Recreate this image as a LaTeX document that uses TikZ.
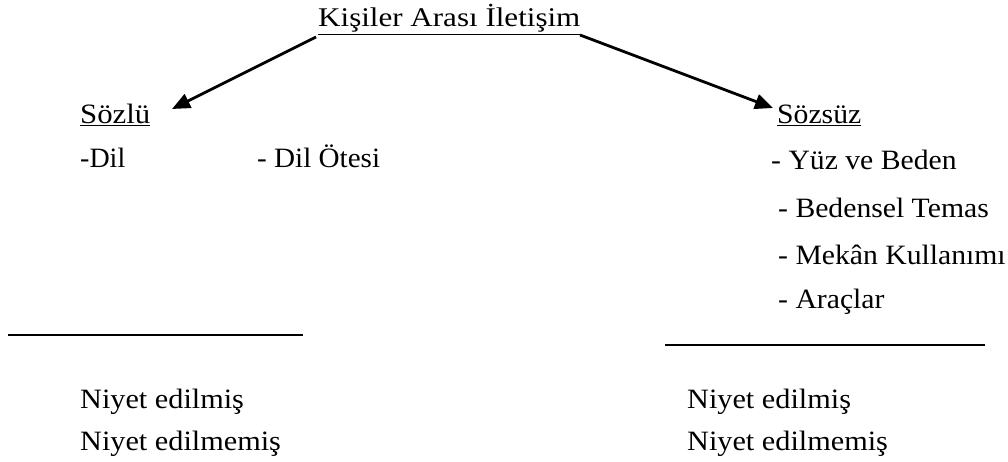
\documentclass[tikz,border=0pt]{standalone}
\usepackage{fontspec}
\setmainfont{Liberation Serif}
\usetikzlibrary{arrows.meta}
\newcommand{\wide}[2]{\scalebox{#1}[1]{#2}}
\tikzset{
  lbl/.style={anchor=base west, inner sep=0pt, font=\fontsize{28}{32}\selectfont},
  ttl/.style={anchor=base west, inner sep=0pt, font=\fontsize{27}{30}\selectfont},
  arr/.style={line width=2.8pt, -{Triangle[length=18pt,width=15pt]}},
  rule/.style={line width=1.6pt}
}
\begin{document}
\begin{tikzpicture}[x=1pt,y=-1pt]
\useasboundingbox (0,0) rectangle (1008,462);
\node[ttl] (title) at (318,27) {\wide{1.15}{\underline{Kişiler Arası İletişim}}};
\node[lbl] (sozlu) at (80,124) {\wide{1.1}{\underline{Sözlü}}};
\node[lbl] (dil) at (80,168) {-Dil};
\node[lbl] (dilotesi) at (257,168) {\wide{1.04}{- Dil Ötesi}};
\node[lbl] (sozsuz) at (777,124) {\wide{1.06}{\underline{Sözsüz}}};
\node[lbl] (yuz) at (771,170) {\wide{1.06}{- Yüz ve Beden}};
\node[lbl] (bedensel) at (778,218) {\wide{1.06}{- Bedensel Temas}};
\node[lbl] (mekan) at (778,264) {\wide{1.06}{- Mekân Kullanımı}};
\node[lbl] (arac) at (778,308) {\wide{1.06}{- Araçlar}};
\coordinate (l1) at (8,335);
\coordinate (l2) at (303,335);
\coordinate (r1) at (665,345);
\coordinate (r2) at (985,345);
\draw[rule] (l1) -- (l2);
\draw[rule] (r1) -- (r2);
\node[lbl] (ln1) at (80,408) {\wide{1.08}{Niyet edilmiş}};
\node[lbl] (ln2) at (80,450) {\wide{1.08}{Niyet edilmemiş}};
\node[lbl] (rn1) at (687,408) {\wide{1.08}{Niyet edilmiş}};
\node[lbl] (rn2) at (687,450) {\wide{1.08}{Niyet edilmemiş}};
\coordinate (a1) at (316,37);
\coordinate (t1) at (172,109);
\coordinate (a2) at (580,35);
\coordinate (t2) at (773,108);
\draw[arr] (a1) -- (t1);
\draw[arr] (a2) -- (t2);
\end{tikzpicture}
\end{document}
